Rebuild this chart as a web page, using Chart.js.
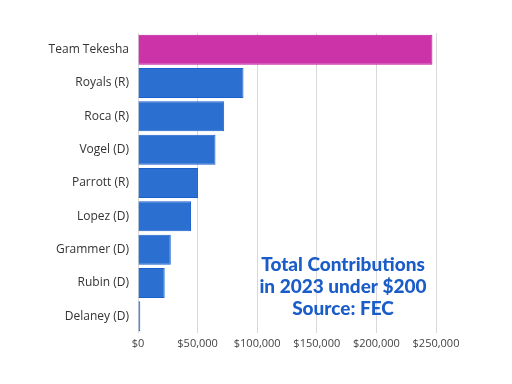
<!DOCTYPE html>
<html>
<head>
<meta charset="utf-8">
<script src="https://cdn.jsdelivr.net/npm/chart.js@4/dist/chart.umd.min.js"></script>
<style>
  html, body { margin: 0; padding: 0; background: #fff; }
  #wrap { width: 512px; height: 384px; }
</style>
</head>
<body>
<div id="wrap"><canvas id="myChart" width="512" height="384"></canvas></div>
<script>
const candidates = ['Team Tekesha', 'Royals (R)', 'Roca (R)', 'Vogel (D)', 'Parrott (R)',
    'Lopez (D)', 'Grammer (D)', 'Rubin (D)', 'Delaney (D)'];
const contributions = [247000, 88500, 72300, 65000, 50400, 44500, 27500, 22400, 1900];
const noteLines = ['Total Contributions', 'in 2023 under $200', 'Source: FEC'];

const fillColors = candidates.map((c, i) => i === 0 ? '#cc33a8' : '#2b6fd1');
const edgeColors = candidates.map((c, i) => i === 0 ? '#c0109a' : '#1a5fcc');

// note drawn inside the plot area, bottom right
const notePlugin = {
    id: 'note',
    afterDraw(chart) {
        const ctx = chart.ctx;
        ctx.save();
        ctx.fillStyle = '#1a5cc8';
        ctx.font = '900 19px Lato, sans-serif';
        ctx.textAlign = 'center';
        ctx.textBaseline = 'middle';
        const x = 343;
        const ys = [265, 287, 309];
        noteLines.forEach((t, i) => ctx.fillText(t, x, ys[i]));
        ctx.restore();
    }
};

document.addEventListener('DOMContentLoaded', function () {
    const ctx = document.getElementById('myChart').getContext('2d');
    new Chart(ctx, {
        type: 'bar',
        data: {
            labels: candidates,
            datasets: [{
                data: contributions,
                backgroundColor: fillColors,
                borderColor: edgeColors,
                borderWidth: 1,
                categoryPercentage: 0.9,
                barPercentage: 1.0
            }]
        },
        options: {
            indexAxis: 'y',
            responsive: false,
            animation: false,
            layout: { padding: { top: 33, right: 76, left: 0, bottom: 0 } },
            plugins: {
                legend: { display: false },
                tooltip: { enabled: false }
            },
            scales: {
                x: {
                    min: 0,
                    max: 250000,
                    ticks: {
                        stepSize: 50000,
                        padding: 4,
                        color: '#444',
                        font: { family: 'Open Sans', size: 11 },
                        callback: v => '$' + v.toLocaleString('en-US')
                    },
                    grid: { color: '#d9d9d9', drawTicks: false },
                    border: { display: false },
                    afterFit(scale) { scale.height = 51; }
                },
                y: {
                    ticks: {
                        padding: 1,
                        color: '#333',
                        font: { family: 'Open Sans', size: 12 }
                    },
                    grid: { display: false },
                    border: { display: false },
                    afterFit(scale) { scale.width = 138; }
                }
            }
        },
        plugins: [notePlugin]
    });
});
</script>
</body>
</html>
